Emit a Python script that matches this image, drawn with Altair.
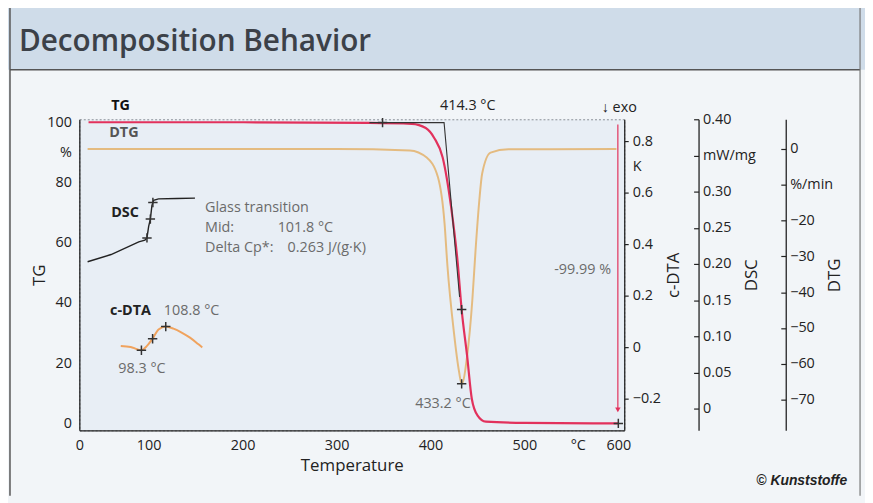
import altair as alt
import pandas as pd

FONT = "Open Sans"

# ---------------- data ----------------
# TG curve, mass in %
tg_T = [36, 200, 335, 380, 395, 404, 413, 422, 429, 433.2, 439, 444, 450, 459, 500, 600]
tg_v = [100, 100, 99.8, 99.5, 98.1, 94.8, 88.3, 71.8, 53.3, 37.8, 22.5, 8.2, 2.7, 0.6, 0.2, 0.01]

# DTG curve, %/min
dtg_T = [35, 300, 378, 396, 408, 415, 418, 425, 430.5, 433.2, 439, 444.6, 448, 452, 455, 464, 483, 598]
dtg_v = [0, 0, -0.4, -2.4, -7.9, -20.8, -32.4, -51.3, -62.3, -65.6, -57.9, -42.1, -28.3, -14.4, -6.9, -1.0, -0.1, 0]

# DSC glass-transition inset, mW/mg
dsc_T = [35, 60, 89.5, 96, 98.2, 100, 101.8, 103.5, 105.3, 110.5, 130, 149.3]
dsc_v = [0.203, 0.213, 0.2305, 0.233, 0.236, 0.252, 0.262, 0.281, 0.288, 0.290, 0.2905, 0.291]

# c-DTA inset, K
cdta_T = [70.3, 80.9, 87.7, 92.3, 98.2, 104.2, 110.5, 118.2, 126.4, 135.1, 144, 152.7, 157]
cdta_v = [0.005, 0.001, -0.008, -0.012, 0.005, 0.033, 0.069, 0.080, 0.072, 0.057, 0.037, 0.012, -0.001]

# evaluation markers
tg_mark_T = [349, 433.2, 600]
tg_mark_v = [99.9, 37.8, 0.01]
dtg_mark_T = [433.2]
dtg_mark_v = [-65.6]
dsc_mark_T = [98.2, 101.8, 104.5]
dsc_mark_v = [0.236, 0.262, 0.285]
cdta_mark_T = [92.3, 104.2, 118.2]
cdta_mark_v = [-0.012, 0.033, 0.080]

# onset tangent construction (TG units)
tan_T = [335, 414.5, 431]
tan_v = [99.9, 99.9, 42]

# mass-change arrow at the end (TG units)
arrow_T = [599.5]
arrow_top = [99.3]
arrow_bot = [4.5]

# annotation texts (T, TG-% position)
ann_text = ["TG", "DTG", "DSC", "c-DTA", "108.8 °C", "98.3 °C",
            "414.3 °C", "↓ exo", "-99.99 %", "433.2 °C"]
ann_T = [70.2, 73.6, 74.8, 80.7, 145.7, 92.9, 439.7, 601, 562, 413.3]
ann_v = [105.3, 96.4, 69.7, 37.3, 37.3, 18.1, 105.3, 104.6, 51, 6.6]
ann_bold = [True, True, True, True, False, False, False, False, False, False]
ann_color = ["#111111", "#555555", "#222222", "#222222", "#6b6b6b", "#6b6b6b",
             "#222222", "#222222", "#6b6b6b", "#6b6b6b"]

gt_text = ["Glass transition", "Mid:", "101.8 °C", "Delta Cp*:", "0.263 J/(g·K)"]
gt_T = [160, 160, 237.3, 160, 247.9]
gt_v = [71.4, 64.8, 64.8, 58.2, 58.2]

# axes
x_ticks = [26.2, 100, 200, 300, 400, 500, 556.8, 600]
tg_ticks = [0, 20, 40, 60, 80, 90, 100]
cdta_ticks = [-0.2, 0, 0.2, 0.4, 0.6, 0.7, 0.8]
dsc_ticks = [0, 0.05, 0.10, 0.15, 0.20, 0.25, 0.30, 0.35, 0.40]
dtg_ticks = [-70, -60, -50, -40, -30, -20, -10, 0]

X_DOM = [26.2, 606.3]
TG_DOM = [-2.3, 101]
DTG_DOM = [-78.6, 8.3]
DSC_DOM = [-0.0301, 0.40]
CDTA_DOM = [-0.323, 0.885]

W, H = 550, 314

TG_RED = "#e2315c"
DTG_TAN = "#e4bb80"
CDTA_OR = "#f0a35e"

# ---------------- encodings ----------------
X_ENC = alt.X(
    "T:Q",
    scale=alt.Scale(domain=X_DOM, nice=False, zero=False),
    axis=alt.Axis(
        title="Temperature", values=x_ticks,
        labelExpr="datum.value < 50 ? '0' : (datum.value > 550 && datum.value < 560 ? '°C' : datum.label)",
        ticks=False, labelPadding=8, labelFlush=False, labelOverlap=False,
        titlePadding=6, domainColor="#222222", domainWidth=1.3,
    ),
)


def yenc(dom, axis=None, field="v:Q"):
    return alt.Y(field, scale=alt.Scale(domain=dom, nice=False, zero=False), axis=axis)


tg_df = pd.DataFrame({"T": tg_T, "v": tg_v})
dtg_df = pd.DataFrame({"T": dtg_T, "v": dtg_v})
dsc_df = pd.DataFrame({"T": dsc_T, "v": dsc_v})
cdta_df = pd.DataFrame({"T": cdta_T, "v": cdta_v})

one = pd.DataFrame({"a": [0]})

# decoration: header band and panel frame
header = alt.Chart(one).mark_rect(color="#cfdce9").encode(
    x=alt.value(-72), x2=alt.value(793), y=alt.value(-118), y2=alt.value(-50))
frame_lines = alt.layer(
    alt.Chart(one).mark_rule(color="#444", strokeWidth=1.5).encode(
        x=alt.value(-72), x2=alt.value(793), y=alt.value(-117)),
    alt.Chart(one).mark_rule(color="#555", strokeWidth=1.5).encode(
        x=alt.value(-70), x2=alt.value(788), y=alt.value(-50)),
    alt.Chart(one).mark_rule(color="#555", strokeWidth=1.5).encode(
        x=alt.value(-70), y=alt.value(-117), y2=alt.value(380)),
    alt.Chart(one).mark_rule(color="#777", strokeWidth=1.2).encode(
        x=alt.value(788), y=alt.value(-117), y2=alt.value(380)),
)
title_txt = alt.Chart(one).mark_text(
    text="Decomposition Behavior", font=FONT, fontSize=30, fontWeight=600,
    color="#3c4148", align="left", baseline="middle").encode(
    x=alt.value(-61), y=alt.value(-78))
copyright_txt = alt.Chart(one).mark_text(
    text="© Kunststoffe", font="Liberation Sans", fontSize=14, fontWeight="bold",
    fontStyle="italic", color="#222", align="right", baseline="middle").encode(
    x=alt.value(775), y=alt.value(365))

# DTG
dtg_line = alt.Chart(dtg_df).mark_line(color=DTG_TAN, strokeWidth=2, interpolate="monotone").encode(
    x=X_ENC,
    y=yenc(DTG_DOM, alt.Axis(
        orient="right", offset=163, title="DTG", values=dtg_ticks, ticks=False,
        labelExpr="datum.value == -10 ? '%/min' : datum.label",
        labelPadding=4, titleAngle=270, titleX=49, titleY=H / 2, titleBaseline="middle",
        domainColor="#222222", domainWidth=1.3)),
)
dtg_ticks_layer = alt.Chart(dtg_df).mark_line(opacity=0).encode(
    x=X_ENC,
    y=yenc(DTG_DOM, alt.Axis(
        orient="left", offset=-(793 - 80), title=None, values=dtg_ticks,
        labels=False, domain=False, tickSize=5, tickColor="#222", tickWidth=1.2)),
)

# DSC
dsc_line = alt.Chart(dsc_df).mark_line(color="#222", strokeWidth=1.4).encode(
    x=X_ENC,
    y=yenc(DSC_DOM, alt.Axis(
        orient="right", offset=75, title="DSC", values=dsc_ticks, ticks=False,
        labelExpr="datum.value == 0 ? '0' : (abs(datum.value - 0.35) < 0.001 ? 'mW/mg' : format(datum.value, '.2f'))",
        labelPadding=4, titleAngle=270, titleX=53, titleY=H / 2, titleBaseline="middle",
        domainColor="#222222", domainWidth=1.3)),
)
dsc_ticks_layer = alt.Chart(dsc_df).mark_line(opacity=0).encode(
    x=X_ENC,
    y=yenc(DSC_DOM, alt.Axis(
        orient="left", offset=-(705 - 80), title=None, values=dsc_ticks,
        labels=False, domain=False, tickSize=5, tickColor="#222", tickWidth=1.2)),
)

# c-DTA
cdta_line = alt.Chart(cdta_df).mark_line(color=CDTA_OR, strokeWidth=2, interpolate="monotone").encode(
    x=X_ENC,
    y=yenc(CDTA_DOM, alt.Axis(
        orient="right", offset=0, title="c-DTA", values=cdta_ticks, tickSize=4,
        tickColor="#222", tickWidth=1.2,
        tickOpacity={"condition": {"test": "abs(datum.value - 0.7) < 0.001", "value": 0}, "value": 1},
        labelExpr="abs(datum.value - 0.7) < 0.001 ? 'K' : (datum.value == 0 ? '0' : format(datum.value, '.1f'))",
        labelPadding=4, titleAngle=270, titleX=50, titleY=H / 2, titleBaseline="middle",
        domainColor="#222222", domainWidth=1.3)),
)

# TG
tg_line = alt.Chart(tg_df).mark_line(color=TG_RED, strokeWidth=2.2, interpolate="monotone").encode(
    x=X_ENC,
    y=yenc(TG_DOM, alt.Axis(
        orient="left", title="TG", values=tg_ticks, ticks=False,
        labelExpr="datum.value == 90 ? '%' : datum.label", labelPadding=8,
        titleAngle=270, titleX=-40, titleY=H / 2, titleBaseline="middle",
        domainColor="#222222", domainWidth=1.3)),
)

tangent = alt.Chart(pd.DataFrame({"T": tan_T, "v": tan_v})).mark_line(
    color="#333", strokeWidth=1.1).encode(x=X_ENC, y=yenc(TG_DOM))

arrow_df = pd.DataFrame({"T": arrow_T, "v": arrow_top, "v2": arrow_bot})
arrow_rule = alt.Chart(arrow_df).mark_rule(color=TG_RED, strokeWidth=1.2).encode(
    x=X_ENC, y=yenc(TG_DOM), y2="v2:Q")
arrow_head = alt.Chart(arrow_df).mark_point(
    shape="triangle-down", filled=True, color=TG_RED, size=30, opacity=1).encode(
    x=X_ENC, y=yenc(TG_DOM, field="v2:Q"))

CROSS = "M-1,0L1,0M0,-1L0,1"


def markers(T, v, dom):
    return alt.Chart(pd.DataFrame({"T": T, "v": v})).mark_point(
        shape=CROSS, size=90, strokeWidth=1.5, color="#333", opacity=1, filled=False).encode(
        x=X_ENC, y=yenc(dom))


ann_df = pd.DataFrame({"T": ann_T, "v": ann_v, "t": ann_text,
                       "w": ["bold" if b else "normal" for b in ann_bold],
                       "c": ann_color})
ann_bold_layer = alt.Chart(ann_df[ann_df.w == "bold"]).mark_text(
    font=FONT, fontSize=14.5, fontWeight="bold", align="center", baseline="middle").encode(
    x=X_ENC, y=yenc(TG_DOM), text="t:N", color=alt.Color("c:N", scale=None))
ann_norm_layer = alt.Chart(ann_df[ann_df.w == "normal"]).mark_text(
    font=FONT, fontSize=14.5, align="center", baseline="middle").encode(
    x=X_ENC, y=yenc(TG_DOM), text="t:N", color=alt.Color("c:N", scale=None))

gt_df = pd.DataFrame({"T": gt_T, "v": gt_v, "t": gt_text})
gt_layer = alt.Chart(gt_df).mark_text(
    font=FONT, fontSize=14.5, align="left", baseline="middle", color="#6b6b6b").encode(
    x=X_ENC, y=yenc(TG_DOM), text="t:N")

chart = alt.layer(
    header, frame_lines, title_txt, copyright_txt,
    dtg_line, dtg_ticks_layer,
    dsc_line, dsc_ticks_layer,
    cdta_line,
    tg_line, tangent, arrow_rule, arrow_head,
    markers(tg_mark_T, tg_mark_v, TG_DOM),
    markers(dtg_mark_T, dtg_mark_v, DTG_DOM),
    markers(dsc_mark_T, dsc_mark_v, DSC_DOM),
    markers(cdta_mark_T, cdta_mark_v, CDTA_DOM),
    ann_bold_layer, ann_norm_layer, gt_layer,
).resolve_scale(y="independent").properties(
    width=W, height=H,
    autosize=alt.AutoSizeParams(type="none"),
    padding={"left": 72, "top": 110, "right": 865 - 72 - W, "bottom": 495 - 110 - H},
    background="#f2f5f8",
).configure_view(
    fill="#e8eef5", stroke="#8a8f96", strokeDash=[2, 2], strokeWidth=1,
).configure_axis(
    labelFont=FONT, labelFontSize=14.5, labelColor="#222",
    titleFont=FONT, titleFontSize=17, titleFontWeight="normal", titleColor="#222",
    grid=False,
)

chart.save("out.html", embed_options={"renderer": "svg", "actions": False})
